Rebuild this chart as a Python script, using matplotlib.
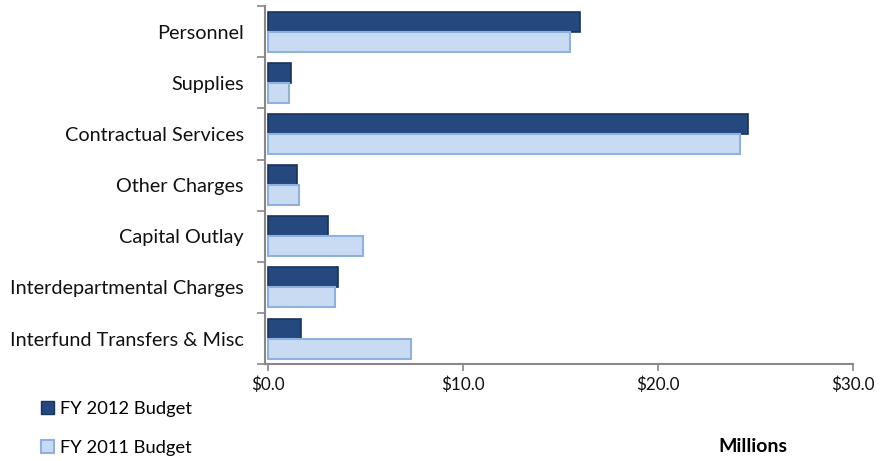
import numpy as np
import matplotlib
matplotlib.use("Agg")
import matplotlib.pyplot as plt
from matplotlib.patches import Patch

##data, in millions
categories = ["Personnel", "Supplies", "Contractual Services", "Other Charges",
              "Capital Outlay", "Interdepartmental Charges", "Interfund Transfers & Misc"]
fy2012 = [16.0, 1.2, 24.6, 1.5, 3.1, 3.6, 1.7]
fy2011 = [15.5, 1.1, 24.2, 1.6, 4.9, 3.45, 7.35]
x_ticks = [0, 10, 20, 30]
x_labels = ["$0.0", "$10.0", "$20.0", "$30.0"]

COLOR_2012 = "#25497F"
EDGE_2012 = "#17335C"
COLOR_2011 = "#C9DBF3"
EDGE_2011 = "#8EB1DE"

plt.rcParams["font.family"] = ["Lato", "DejaVu Sans"]

fig = plt.figure(figsize=(8.82, 4.61), dpi=100)
ax = fig.add_axes([0.300, 0.210, 0.667, 0.777])

y = np.arange(len(categories))
h = 0.39
ax.barh(y - h / 2, fy2012, height=h, color=COLOR_2012, edgecolor=EDGE_2012, linewidth=1.2)
ax.barh(y + h / 2, fy2011, height=h, color=COLOR_2011, edgecolor=EDGE_2011, linewidth=1.5)

ax.set_ylim(len(categories) - 0.5, -0.5)
ax.set_xlim(-0.15, 30)

#category labels in the middle, ticks on the boundaries
ax.set_yticks(y)
ax.set_yticklabels(categories, fontsize=14.3, color="#111111")
ax.set_yticks(np.arange(-0.5, len(categories), 1), minor=True)
ax.tick_params(axis="y", which="major", length=0, pad=15)
ax.tick_params(axis="y", which="minor", length=6, color="#888888", width=1.2)

ax.set_xticks(x_ticks)
ax.set_xticklabels(x_labels, fontsize=12.3, color="#111111")
ax.tick_params(axis="x", length=5, color="#888888", width=1.2, pad=4)

for s in ["top", "right"]:
    ax.spines[s].set_visible(False)
for s in ["left", "bottom"]:
    ax.spines[s].set_color("#888888")
    ax.spines[s].set_linewidth(1.5)

#legend bottom left
handles = [Patch(facecolor=COLOR_2012, edgecolor=EDGE_2012, label="FY 2012 Budget"),
           Patch(facecolor=COLOR_2011, edgecolor=EDGE_2011, linewidth=1.5, label="FY 2011 Budget")]
fig.legend(handles=handles, loc="lower left", bbox_to_anchor=(0.028, -0.025), frameon=False,
           fontsize=13.2, handlelength=0.7, handleheight=0.7, handletextpad=0.3,
           labelspacing=1.25)

fig.text(0.854, 0.031, "Millions", fontsize=14, fontweight="bold", ha="center", va="center")

fig.savefig("out.png", dpi=100)
